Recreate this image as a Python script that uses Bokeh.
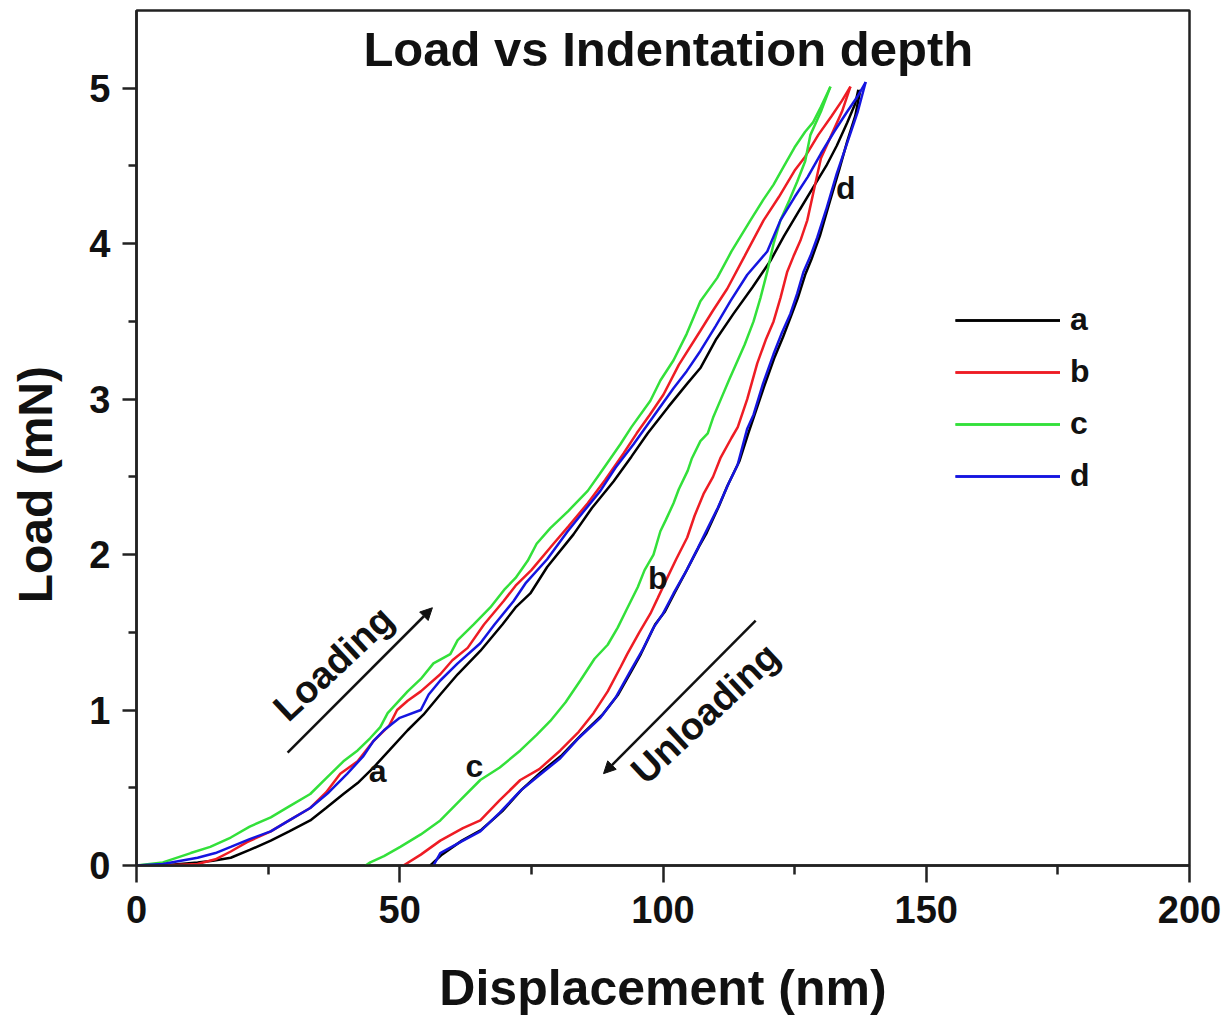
from bokeh.plotting import figure
from bokeh.models import (Range1d, FixedTicker, Legend, LegendItem, Label, Arrow, NormalHead)
from bokeh.embed import file_html
from bokeh.resources import INLINE

# ---------------- data (Displacement nm, Load mN) ----------------
a_load_x = [0, 5, 11.6, 14.5, 17.9, 21.5, 25.5, 29, 33, 36, 39.3, 42, 45, 48, 51.5, 54.5, 57.7, 61, 65.3, 69.5, 72, 74.8, 78, 83, 86.5, 90.6, 94, 97.1, 101, 104.6, 107.1, 110, 113.4, 117, 120.4, 123, 126, 128.5, 131, 133, 135, 136.5, 137.1]
a_load_y = [0, 0.0, 0.02, 0.03, 0.05, 0.10, 0.16, 0.22, 0.29, 0.37, 0.46, 0.53, 0.63, 0.74, 0.87, 0.97, 1.10, 1.23, 1.38, 1.55, 1.66, 1.75, 1.92, 2.13, 2.30, 2.47, 2.63, 2.78, 2.95, 3.10, 3.20, 3.38, 3.55, 3.72, 3.89, 4.05, 4.22, 4.36, 4.50, 4.63, 4.78, 4.90, 4.99]
a_unload_x = [137.5, 136.5, 135, 133.5, 131.5, 129.8, 128.2, 127, 125.6, 124.5, 122.8, 121.2, 119.2, 117.6, 116.2, 114.5, 112.2, 110.6, 108.3, 106.8, 104.2, 102.3, 100.3, 98.5, 95.8, 94, 91.5, 88.5, 84.5, 80.8, 76.8, 73.2, 69.5, 65.5, 61.8, 58, 55.8]
a_unload_y = [4.99, 4.82, 4.66, 4.48, 4.25, 4.05, 3.90, 3.80, 3.65, 3.55, 3.40, 3.27, 3.08, 2.92, 2.78, 2.60, 2.44, 2.31, 2.14, 2.05, 1.88, 1.76, 1.63, 1.55, 1.36, 1.25, 1.10, 0.97, 0.84, 0.71, 0.60, 0.49, 0.35, 0.23, 0.16, 0.07, 0.0]

b_load_x = [0, 5, 11.6, 15, 17.9, 21, 25.5, 29, 33, 36, 38.7, 42, 45, 48, 49.5, 51.5, 54, 57.7, 60, 62.9, 66, 69.7, 72, 75, 79.2, 82, 85.7, 89, 92.5, 95, 97.5, 100.1, 103, 107.1, 109.5, 112.2, 115.5, 119.1, 122, 125, 127, 129.5, 132, 134, 135.6]
b_load_y = [0, 0.0, 0.01, 0.04, 0.09, 0.15, 0.22, 0.29, 0.37, 0.47, 0.59, 0.67, 0.80, 0.90, 1.00, 1.06, 1.12, 1.23, 1.32, 1.40, 1.55, 1.70, 1.80, 1.90, 2.07, 2.18, 2.33, 2.48, 2.65, 2.78, 2.90, 3.03, 3.22, 3.44, 3.57, 3.71, 3.92, 4.15, 4.30, 4.47, 4.56, 4.70, 4.82, 4.92, 5.01]
b_unload_x = [135.6, 134, 132, 130, 128.5, 127.4, 126.1, 124.8, 123.6, 122.3, 121, 119.5, 117.9, 116, 114.2, 113, 110.9, 109.5, 107.7, 106, 104.6, 102.5, 100.8, 99, 97.6, 95.5, 93.2, 92, 89.5, 86.8, 84, 80.5, 76.5, 72.9, 69, 65.3, 62, 57.7, 54, 50.7]
b_unload_y = [5.01, 4.85, 4.70, 4.55, 4.32, 4.15, 4.02, 3.92, 3.82, 3.65, 3.50, 3.38, 3.23, 3.00, 2.82, 2.75, 2.62, 2.50, 2.39, 2.25, 2.11, 1.97, 1.85, 1.72, 1.62, 1.50, 1.36, 1.28, 1.12, 0.98, 0.86, 0.74, 0.62, 0.55, 0.42, 0.29, 0.24, 0.16, 0.07, 0.0]

c_load_x = [0, 5, 10.3, 14, 17.9, 21.5, 25.5, 29, 33, 36, 39.3, 42, 44.4, 46.3, 47.7, 51.5, 54, 56.4, 59.6, 61, 64, 67.2, 70, 72, 74.3, 76, 78.6, 82, 85.7, 88, 91.9, 94, 97.6, 99.5, 102, 104.5, 107.1, 110.3, 113, 116.6, 119, 121, 123, 125, 127, 128.5, 130, 131.8]
c_load_y = [0, 0.02, 0.08, 0.12, 0.18, 0.25, 0.31, 0.38, 0.46, 0.56, 0.67, 0.74, 0.82, 0.89, 0.98, 1.12, 1.20, 1.30, 1.36, 1.45, 1.55, 1.66, 1.78, 1.85, 1.96, 2.07, 2.17, 2.28, 2.41, 2.52, 2.71, 2.82, 2.99, 3.12, 3.25, 3.42, 3.63, 3.78, 3.95, 4.15, 4.28, 4.38, 4.50, 4.62, 4.72, 4.78, 4.88, 5.01]
c_unload_x = [131.8, 130, 128, 127, 125.5, 124, 122.3, 121, 119.8, 118.5, 117.2, 115.5, 114.2, 112.5, 111, 109.5, 108.5, 107.1, 105.5, 104.7, 103, 102, 100.5, 99.5, 98.2, 96.5, 95.2, 93, 91.4, 89.5, 87, 84.3, 81.5, 78.6, 76, 72.9, 69, 65.3, 61.5, 57.7, 54, 50.1, 47, 44.4, 43.5]
c_unload_y = [5.01, 4.85, 4.70, 4.53, 4.40, 4.28, 4.15, 4.00, 3.82, 3.65, 3.50, 3.35, 3.25, 3.12, 3.00, 2.88, 2.78, 2.73, 2.62, 2.54, 2.42, 2.33, 2.22, 2.15, 2.00, 1.90, 1.79, 1.64, 1.53, 1.42, 1.33, 1.19, 1.05, 0.93, 0.84, 0.74, 0.63, 0.55, 0.42, 0.29, 0.20, 0.12, 0.06, 0.02, 0.0]

d_load_x = [0, 5, 11.6, 15, 17.9, 21.5, 25.5, 29, 33, 36.5, 40, 43, 45, 47, 50, 54, 55.5, 57.7, 61, 65.3, 68, 71.6, 74, 78, 81.9, 85, 88.1, 91, 94.4, 98, 102, 104.5, 107.1, 110, 112.8, 116, 119.8, 122.3, 125, 127.5, 130, 132.5, 135, 137, 138.5]
d_load_y = [0, 0.01, 0.05, 0.08, 0.12, 0.17, 0.22, 0.29, 0.37, 0.47, 0.59, 0.70, 0.80, 0.87, 0.95, 1.00, 1.10, 1.19, 1.30, 1.43, 1.55, 1.70, 1.82, 1.97, 2.15, 2.28, 2.41, 2.56, 2.71, 2.88, 3.07, 3.18, 3.31, 3.47, 3.63, 3.80, 3.95, 4.15, 4.30, 4.43, 4.58, 4.72, 4.85, 4.95, 5.04]
d_unload_x = [138.5, 137, 135, 133, 131, 129.3, 128, 126.7, 125.5, 124.2, 122.5, 121, 119, 117.2, 116, 114.2, 112.5, 110.4, 108.5, 106.6, 104.5, 102, 100, 98.2, 96, 93.8, 91, 88.1, 84, 80.5, 76.5, 72.9, 69, 65.3, 61.5, 57.7, 56.4]
d_unload_y = [5.04, 4.85, 4.65, 4.45, 4.22, 4.04, 3.92, 3.82, 3.68, 3.55, 3.42, 3.29, 3.10, 2.90, 2.81, 2.58, 2.46, 2.30, 2.17, 2.04, 1.90, 1.75, 1.62, 1.53, 1.38, 1.25, 1.08, 0.95, 0.82, 0.69, 0.58, 0.48, 0.34, 0.22, 0.15, 0.08, 0.0]

series_names = ["a", "b", "c", "d"]
series_colors = ["#000000", "#ee1c24", "#33e03a", "#1515e0"]

x_major = [0, 50, 100, 150, 200]
x_minor = [25, 75, 125, 175]
y_major = [0, 1, 2, 3, 4, 5]
y_minor = [0.5, 1.5, 2.5, 3.5, 4.5]

title_text = "Load vs Indentation depth"
x_label = "Displacement (nm)"
y_label = "Load (mN)"

FONT = "Liberation Sans"

p = figure(width=1224, height=1018, output_backend="svg", toolbar_location=None,
           x_range=Range1d(0, 200), y_range=Range1d(0, 5.5))
p.min_border_left = 136
p.min_border_right = 35
p.min_border_top = 10
p.min_border_bottom = 153
p.background_fill_color = "white"
p.border_fill_color = "white"
p.grid.visible = False
p.outline_line_color = "#222222"
p.outline_line_width = 2.5

for ax, majors, minors in ((p.xaxis[0], x_major, x_minor), (p.yaxis[0], y_major, y_minor)):
    ax.ticker = FixedTicker(ticks=majors, minor_ticks=minors)
    ax.axis_line_color = "#222222"
    ax.axis_line_width = 2.5
    ax.major_tick_line_color = "#222222"
    ax.major_tick_line_width = 2.5
    ax.minor_tick_line_color = "#222222"
    ax.minor_tick_line_width = 2.5
    ax.major_tick_in = 0
    ax.minor_tick_in = 0
    ax.major_label_text_font = FONT
    ax.major_label_text_font_style = "bold"
    ax.major_label_text_font_size = "38px"
    ax.major_label_text_color = "#111111"
    ax.axis_label_text_font = FONT
    ax.axis_label_text_font_style = "bold"
    ax.axis_label_text_color = "#111111"

p.xaxis.major_tick_out = 17
p.xaxis.minor_tick_out = 9
p.xaxis.major_label_standoff = 13
p.xaxis.axis_label = x_label
p.xaxis.axis_label_text_font_size = "50px"
p.xaxis.axis_label_standoff = 34
p.yaxis.major_tick_out = 14
p.yaxis.minor_tick_out = 8
p.yaxis.major_label_standoff = 12
# trailing no-break spaces push the visible label below the frame centre, as in the original
p.yaxis.axis_label = y_label + "\u00a0" * 7
p.yaxis.axis_label_text_font_size = "48px"
p.yaxis.axis_label_standoff = 24

loads = [(a_load_x, a_load_y), (b_load_x, b_load_y), (c_load_x, c_load_y), (d_load_x, d_load_y)]
unloads = [(a_unload_x, a_unload_y), (b_unload_x, b_unload_y), (c_unload_x, c_unload_y), (d_unload_x, d_unload_y)]

items = []
for name, color, (lx, ly), (ux, uy) in zip(series_names, series_colors, loads, unloads):
    r1 = p.line(lx, ly, line_color=color, line_width=2.5)
    r2 = p.line(ux, uy, line_color=color, line_width=2.5)
    items.append(LegendItem(label=name, renderers=[r1, r2]))

legend = Legend(items=items, location=(819, 371), glyph_width=105, glyph_height=20,
                label_standoff=10, spacing=15, padding=0, margin=0,
                label_text_font=FONT, label_text_font_style="bold",
                label_text_font_size="32px", label_text_color="#111111",
                background_fill_alpha=0, border_line_alpha=0)
p.add_layout(legend)

# title inside the frame
p.add_layout(Label(x=101, y=5.25, text=title_text, text_font=FONT, text_font_style="bold",
                   text_font_size="49px", text_align="center", text_baseline="middle",
                   text_color="#111111"))

# annotations
ann_texts = ["Loading", "Unloading"]
ann_pos = [(37.4, 1.30), (108.0, 0.98)]
for t, (ax_, ay_) in zip(ann_texts, ann_pos):
    p.add_layout(Label(x=ax_, y=ay_, text=t, angle=43, angle_units="deg", text_font=FONT,
                       text_font_style="bold", text_font_size="38px", text_align="center",
                       text_baseline="middle", text_color="#111111"))

arrows = [((28.7, 0.726), (56.2, 1.658)), ((117.6, 1.575), (88.7, 0.591))]
for (x0, y0), (x1, y1) in arrows:
    p.add_layout(Arrow(x_start=x0, y_start=y0, x_end=x1, y_end=y1, line_width=2.5,
                       line_color="#111111",
                       end=NormalHead(size=12, fill_color="#111111", line_color="#111111")))

curve_labels = ["a", "c", "b", "d"]
curve_label_pos = [(45.8, 0.61), (64.2, 0.64), (99.0, 1.85), (134.7, 4.36)]
for t, (lx_, ly_) in zip(curve_labels, curve_label_pos):
    p.add_layout(Label(x=lx_, y=ly_, text=t, text_font=FONT, text_font_style="bold",
                       text_font_size="32px", text_align="center", text_baseline="middle",
                       text_color="#111111"))

open("out.html", "w").write(file_html(p, INLINE))
